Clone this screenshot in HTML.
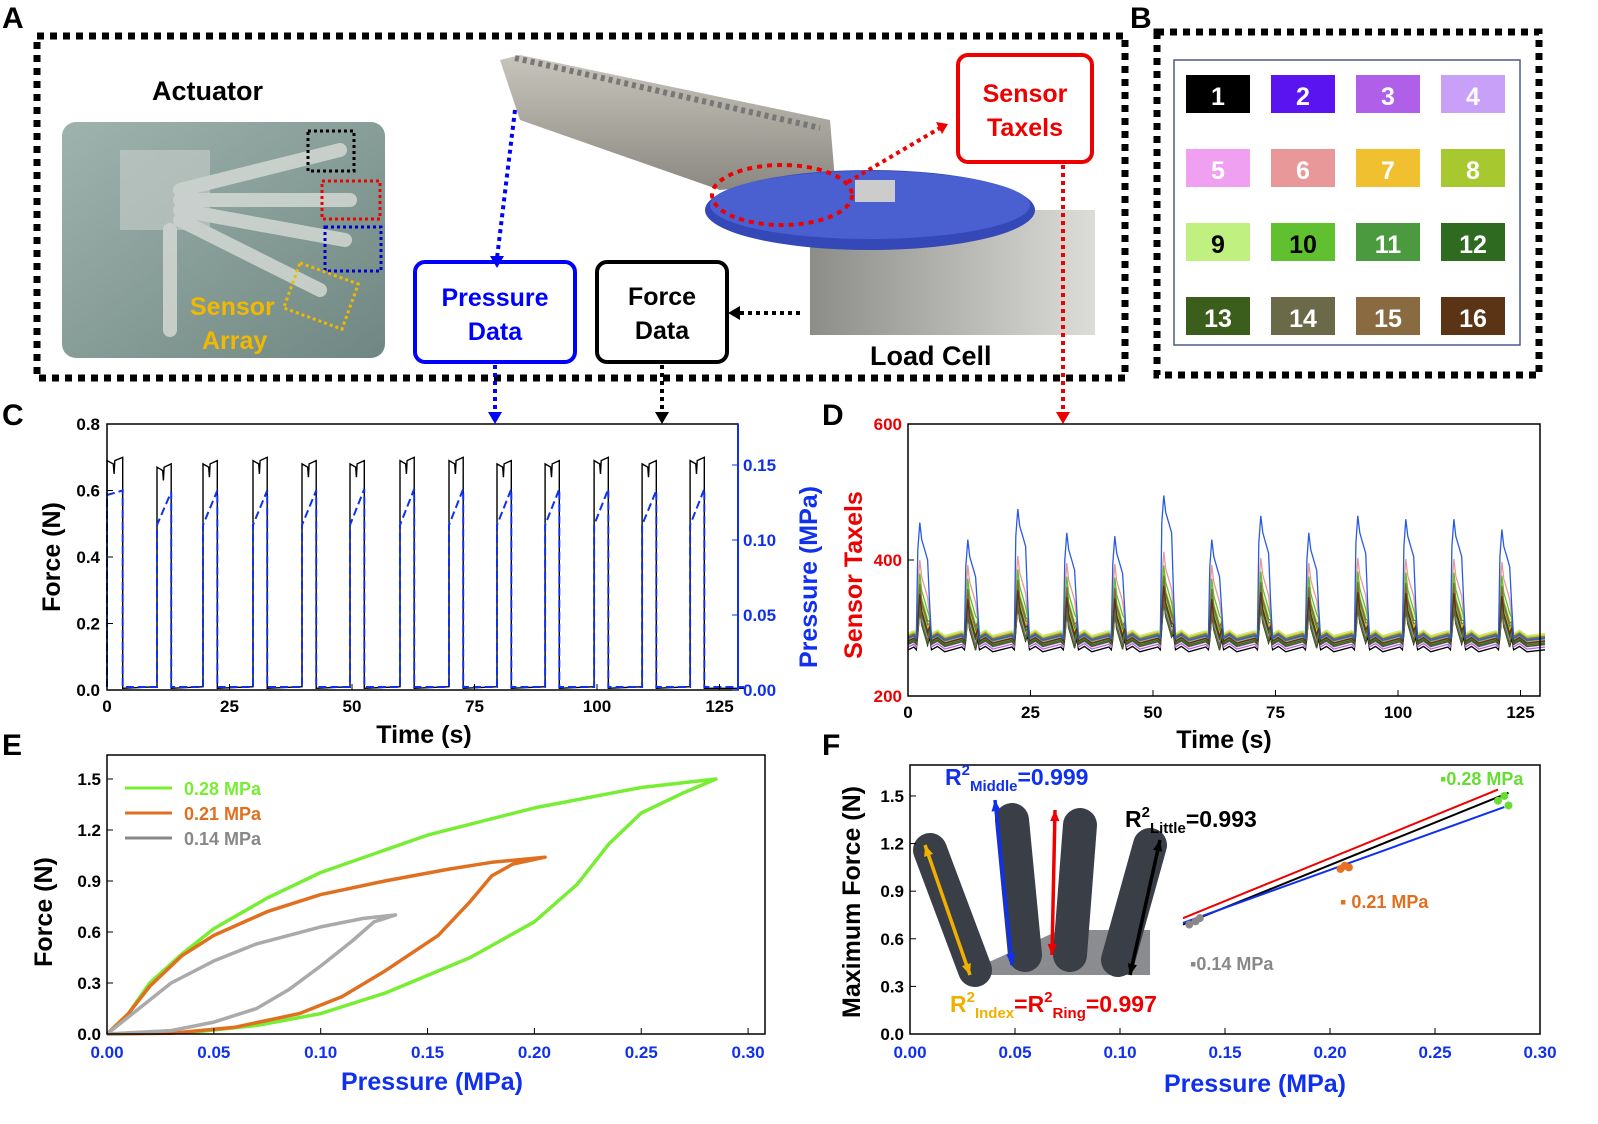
<!DOCTYPE html>
<html><head><meta charset="utf-8">
<style>
html,body{margin:0;padding:0;background:#fff;}
svg{display:block;font-family:"Liberation Sans",Arial,sans-serif;}
</style></head>
<body>
<svg id="fig" width="1598" height="1124" viewBox="0 0 1598 1124" xmlns="http://www.w3.org/2000/svg">
<defs>
<linearGradient id="actBg" x1="0" y1="0" x2="1" y2="1"><stop offset="0" stop-color="#9fb3ae"/><stop offset="1" stop-color="#6f8782"/></linearGradient>
<linearGradient id="armG" x1="0" y1="0" x2="0" y2="1"><stop offset="0" stop-color="#c8c6bc"/><stop offset="1" stop-color="#8a8880"/></linearGradient>
<linearGradient id="cellG" x1="0" y1="0" x2="1" y2="0"><stop offset="0" stop-color="#8c8c88"/><stop offset="1" stop-color="#dcdcd8"/></linearGradient>
</defs>

<!-- Panel letters -->
<g font-weight="bold" font-size="30" fill="#000">
<text x="2" y="28">A</text>
<text x="1130" y="28">B</text>
<text x="2" y="425">C</text>
<text x="822" y="425">D</text>
<text x="2" y="755">E</text>
<text x="822" y="755">F</text>
</g>

<!-- Panel A -->
<g>
<rect x="37" y="36" width="1088" height="342" fill="none" stroke="#000" stroke-width="7" stroke-dasharray="7,6"/>
<text x="152" y="100" font-size="27" font-weight="bold">Actuator</text>
<rect x="62" y="122" width="323" height="236" rx="14" fill="url(#actBg)"/>
<g stroke="#d8dcd8" stroke-width="14" fill="none" opacity="0.8" stroke-linecap="round">
<path d="M180 190 L340 150"/><path d="M180 200 L350 200"/><path d="M180 210 L345 240"/><path d="M180 220 L320 290"/><path d="M170 230 L170 330"/>
</g>
<rect x="120" y="150" width="90" height="80" fill="#c8cfcc" opacity="0.6"/>
<rect x="308" y="131" width="46" height="40" fill="none" stroke="#000" stroke-width="3" stroke-dasharray="3,3"/>
<rect x="322" y="181" width="58" height="38" fill="none" stroke="#e00" stroke-width="3" stroke-dasharray="3,3"/>
<rect x="325" y="227" width="56" height="44" fill="none" stroke="#00c" stroke-width="3" stroke-dasharray="3,3"/>
<rect x="290" y="272" width="62" height="48" fill="none" stroke="#f0b800" stroke-width="3" stroke-dasharray="3,3" transform="rotate(20 321 296)"/>
<text x="190" y="315" font-size="25" font-weight="bold" fill="#f0b800">Sensor</text>
<text x="202" y="349" font-size="25" font-weight="bold" fill="#f0b800">Array</text>

<!-- load cell photo -->
<path d="M500 60 L520 55 L830 120 L835 180 L720 190 L520 120 Z" fill="url(#armG)"/>
<path d="M515 58 L820 128" stroke="#777" stroke-width="6" stroke-dasharray="4,4"/>
<rect x="810" y="210" width="285" height="125" fill="url(#cellG)"/>
<ellipse cx="870" cy="210" rx="165" ry="40" fill="#3448b8"/>
<ellipse cx="870" cy="205" rx="160" ry="34" fill="#4a5fd0"/>
<rect x="855" y="180" width="40" height="22" fill="#ccc"/>
<ellipse cx="782" cy="195" rx="70" ry="30" fill="none" stroke="#e00" stroke-width="4" stroke-dasharray="5,5"/>
<text x="870" y="365" font-size="27" font-weight="bold">Load Cell</text>

<rect x="958" y="55" width="134" height="107" rx="10" fill="#fff" stroke="#e00" stroke-width="4"/>
<text x="1025" y="102" text-anchor="middle" font-size="25" font-weight="bold" fill="#e00">Sensor</text>
<text x="1025" y="136" text-anchor="middle" font-size="25" font-weight="bold" fill="#e00">Taxels</text>
<rect x="415" y="262" width="160" height="100" rx="10" fill="#fff" stroke="#00f" stroke-width="4"/>
<text x="495" y="306" text-anchor="middle" font-size="25" font-weight="bold" fill="#00f">Pressure</text>
<text x="495" y="340" text-anchor="middle" font-size="25" font-weight="bold" fill="#00f">Data</text>
<rect x="597" y="262" width="130" height="100" rx="10" fill="#fff" stroke="#000" stroke-width="4"/>
<text x="662" y="305" text-anchor="middle" font-size="25" font-weight="bold">Force</text>
<text x="662" y="339" text-anchor="middle" font-size="25" font-weight="bold">Data</text>

<g stroke-width="4" stroke-dasharray="4,4" fill="none">
<path d="M515 110 L497 258" stroke="#00f"/>
<path d="M848 182 L940 128" stroke="#e00"/>
<path d="M1063 165 L1063 412" stroke="#e00"/>
<path d="M495 365 L495 412" stroke="#00f"/>
<path d="M662 365 L662 412" stroke="#000"/>
<path d="M800 313 L738 313" stroke="#000"/>
</g>
<path d="M490 256 L497 268 L504 256Z" fill="#00f"/>
<path d="M936 122 L948 124 L942 134Z" fill="#e00"/>
<path d="M1056 412 L1063 424 L1070 412Z" fill="#e00"/>
<path d="M488 412 L495 424 L502 412Z" fill="#00f"/>
<path d="M655 412 L662 424 L669 412Z" fill="#000"/>
<path d="M740 306 L728 313 L740 320Z" fill="#000"/>
</g>

<!-- Panel B -->
<g>
<rect x="1157" y="32" width="382" height="343" fill="none" stroke="#000" stroke-width="7" stroke-dasharray="7,6"/>
<rect x="1174" y="60" width="346" height="285" fill="#fff" stroke="#4a5a8a" stroke-width="1.5"/>
<g id="taxelGrid"></g>
</g>

<g id="charts"></g>
</svg>

<script>
// ===== Shared data =====
const taxelColors = ["#000000","#5a14f0","#b060e8","#c8a0f8","#f0a0f0","#e89898","#f0c030","#a8c830","#c0f080","#60c030","#4c9a40","#2e6a20","#3c5e1c","#6a6a48","#8a6a40","#5a3414"];
const taxelTextColors = ["#fff","#fff","#fff","#fff","#fff","#fff","#fff","#fff","#000","#000","#fff","#fff","#fff","#fff","#fff","#fff"];

// ===== Panel C data =====
const cPulseTimes = [0, 10.2, 19.6, 29.8, 39.8, 49.6, 59.8, 69.8, 79.6, 89.4, 99.4, 109.2, 119];
const cPulseForce = [0.70, 0.68, 0.69, 0.70, 0.69, 0.69, 0.70, 0.70, 0.69, 0.69, 0.70, 0.69, 0.70];
const cPulsePressStart = [0.130, 0.110, 0.110, 0.110, 0.110, 0.110, 0.110, 0.110, 0.110, 0.110, 0.110, 0.110, 0.110];
const cPulsePressEnd = [0.133, 0.132, 0.133, 0.133, 0.133, 0.134, 0.134, 0.134, 0.134, 0.134, 0.134, 0.133, 0.134];
const cXTicks = [0, 25, 50, 75, 100, 125];
const cYTicks = ["0.0","0.2","0.4","0.6","0.8"];
const cY2Ticks = ["0.00","0.05","0.10","0.15"];

// ===== Panel D data =====
const dPulseTimes = [2, 11.8, 22, 32, 41.8, 51.8, 61.6, 71.6, 81.4, 91.4, 101.2, 111, 120.8];
const dBluePeaks = [455, 430, 475, 440, 435, 495, 430, 465, 440, 465, 460, 460, 445];
const dTaxelBase = [268, 285, 272, 280, 275, 282, 290, 286, 292, 288, 284, 278, 276, 280, 287, 281];
const dTaxelPeak = [330, 445, 360, 340, 350, 400, 355, 345, 370, 380, 360, 345, 330, 335, 365, 350];
const dXTicks = [0, 25, 50, 75, 100, 125];
const dYTicks = [200, 400, 600];

// ===== Panel E data =====
const eGreenUp = [[0,0],[0.01,0.12],[0.02,0.3],[0.035,0.47],[0.05,0.62],[0.075,0.8],[0.1,0.95],[0.15,1.17],[0.2,1.33],[0.25,1.45],[0.285,1.5]];
const eGreenDown = [[0.285,1.5],[0.27,1.42],[0.25,1.3],[0.235,1.12],[0.22,0.88],[0.2,0.66],[0.17,0.45],[0.13,0.24],[0.1,0.12],[0.07,0.05],[0.04,0.01],[0,0]];
const eOrangeUp = [[0,0],[0.01,0.12],[0.02,0.28],[0.035,0.46],[0.05,0.58],[0.075,0.72],[0.1,0.82],[0.13,0.9],[0.16,0.97],[0.18,1.01],[0.205,1.04]];
const eOrangeDown = [[0.205,1.04],[0.19,1.0],[0.18,0.93],[0.17,0.78],[0.155,0.58],[0.13,0.37],[0.11,0.22],[0.09,0.12],[0.06,0.04],[0.03,0.005],[0,0]];
const eGrayUp = [[0,0],[0.015,0.15],[0.03,0.3],[0.05,0.43],[0.07,0.53],[0.1,0.63],[0.12,0.68],[0.135,0.7]];
const eGrayDown = [[0.135,0.7],[0.125,0.66],[0.115,0.55],[0.1,0.4],[0.085,0.26],[0.07,0.15],[0.05,0.07],[0.03,0.02],[0,0]];
const eXTicks = ["0.00","0.05","0.10","0.15","0.20","0.25","0.30"];
const eYTicks = ["0.0","0.3","0.6","0.9","1.2","1.5"];

// ===== Panel F data =====
const fPointsP = [0.133, 0.136, 0.138, 0.205, 0.207, 0.209, 0.280, 0.283, 0.285];
const fPointsF = [0.69, 0.71, 0.73, 1.04, 1.06, 1.05, 1.47, 1.50, 1.44];
const fPointColors = ["#888","#888","#888","#e87020","#e87020","#e87020","#66dd33","#66dd33","#66dd33"];
const fLineStart = [[0.13,0.73],[0.13,0.69],[0.13,0.70]];
const fLineEnd = [[0.28,1.54],[0.285,1.52],[0.283,1.43]];
const fLineColors = ["#e00","#000","#1030f0"];
const fXTicks = ["0.00","0.05","0.10","0.15","0.20","0.25","0.30"];
const fYTicks = ["0.0","0.3","0.6","0.9","1.2","1.5"];

const NS = "http://www.w3.org/2000/svg";
function mk(tag, attrs, parent){const e=document.createElementNS(NS,tag);for(const k in attrs)e.setAttribute(k,attrs[k]);parent.appendChild(e);return e;}
const charts = document.getElementById('charts');

// ----- Panel B grid -----
const grid = document.getElementById('taxelGrid');
for(let i=0;i<16;i++){
  const col=i%4,row=Math.floor(i/4);
  const x=1186+col*85, y=75+row*74;
  const r=mk('rect',{x:x,y:y,width:64,height:38,fill:taxelColors[i]},grid);
  
  
  const t=mk('text',{x:x+32,y:y+30,'text-anchor':'middle','font-size':25,'font-weight':'bold',fill:taxelTextColors[i]},grid);
  t.textContent=i+1;
}

function pathFrom(pts){return pts.map((p,i)=>(i?'L':'M')+p[0].toFixed(1)+' '+p[1].toFixed(1)).join(' ');}

function frame(g,x0,y0,x1,y1,name){
  const r=mk('rect',{x:x0,y:y0,width:x1-x0,height:y1-y0,fill:'none',stroke:'#000','stroke-width':1.5},g);
  
  
}

// ----- Panel C -----
(function(){
  const g=mk('g',{},charts);
  
  
  const xC=t=>107+t*4.9, yF=f=>690-f*332.5, yP=p=>690-p*1500;
  // force
  let pts=[[xC(0),yF(0.01)]];
  cPulseTimes.forEach((t,i)=>{
    const w=(i===0)?3.2:2.9;
    pts.push([xC(t),yF(0.01)],[xC(t),yF(cPulseForce[i]-0.01)],[xC(t+w*0.4),yF(cPulseForce[i]-0.02)],[xC(t+w*0.45),yF(cPulseForce[i]-0.05)],[xC(t+w*0.5),yF(cPulseForce[i]-0.01)],[xC(t+w),yF(cPulseForce[i])],[xC(t+w),yF(0.005)]);
  });
  pts.push([xC(130),yF(0.005)]);
  let p=mk('path',{d:pathFrom(pts),fill:'none',stroke:'#000','stroke-width':1.4},g);
  
  
  // pressure
  pts=[[xC(0),yP(0.002)]];
  cPulseTimes.forEach((t,i)=>{
    const w=(i===0)?3.2:2.9;
    pts.push([xC(t),yP(0.002)],[xC(t),yP(cPulsePressStart[i])],[xC(t+w),yP(cPulseEnd(i))],[xC(t+w),yP(0.002)]);
  });
  function cPulseEnd(i){return cPulsePressEnd[i];}
  pts.push([xC(130),yP(0.002)]);
  p=mk('path',{d:pathFrom(pts),fill:'none',stroke:'#1030f0','stroke-width':2,'stroke-dasharray':'8,4'},g);
  
  
  frame(g,107,424,738,690,'panel-c-plot-frame');
  const ax=mk('path',{d:'M738 424 L738 690',stroke:'#1030f0','stroke-width':2},g);
  cXTicks.forEach(v=>{mk('line',{x1:xC(v),y1:690,x2:xC(v),y2:684,stroke:'#000'},g);const t=mk('text',{x:xC(v),y:712,'text-anchor':'middle','font-size':17,'font-weight':'bold'},g);t.textContent=v;});
  cYTicks.forEach(v=>{const y=yF(+v);mk('line',{x1:107,y1:y,x2:113,y2:y,stroke:'#000'},g);const t=mk('text',{x:100,y:y+6,'text-anchor':'end','font-size':17,'font-weight':'bold'},g);t.textContent=v;});
  cY2Ticks.forEach(v=>{const y=yP(+v);mk('line',{x1:732,y1:y,x2:738,y2:y,stroke:'#1030f0'},g);const t=mk('text',{x:743,y:y+6,'font-size':17,'font-weight':'bold',fill:'#1030f0'},g);t.textContent=v;});
  let t=mk('text',{x:424,y:743,'text-anchor':'middle','font-size':25,'font-weight':'bold'},g);t.textContent='Time (s)';
  
  t=mk('text',{x:0,y:0,'text-anchor':'middle','font-size':25,'font-weight':'bold',transform:'translate(60 557) rotate(-90)'},g);t.textContent='Force (N)';
  
  t=mk('text',{x:0,y:0,'text-anchor':'middle','font-size':25,'font-weight':'bold',fill:'#1030f0',transform:'translate(817 577) rotate(-90)'},g);t.textContent='Pressure (MPa)';
  
})();

// ----- Panel D -----
(function(){
  const g=mk('g',{},charts);
  
  
  const xD=t=>908+t*4.9, yD=v=>696-(v-200)*0.68;
  const order=[0,2,3,4,5,6,7,8,9,10,11,12,13,14,15,1];
  order.forEach(k=>{
    const pts=[[xD(0),yD(dTaxelBase[k])]];
    dPulseTimes.forEach((t,i)=>{
      const pk = k===1 ? dBluePeaks[i] : dTaxelPeak[k]+(dBluePeaks[i]-455)*0.3;
      const b=dTaxelBase[k];
      pts.push([xD(t-0.8),yD(b+4)],[xD(t-0.3),yD(b)],[xD(t),yD(pk-40)],[xD(t+0.4),yD(pk)],[xD(t+0.8),yD(pk-25)],[xD(t+1.4),yD(pk-40)],[xD(t+2),yD(pk-55)],[xD(t+2.4),yD(b+(pk-b)*0.3)],[xD(t+2.8),yD(b)],[xD(t+4),yD(b+5)],[xD(t+5.5),yD(b-3)]);
    });
    pts.push([xD(130),yD(dTaxelBase[k])]);
    const col = k===1 ? '#2a5ae0' : taxelColors[k];
    const p=mk('path',{d:pathFrom(pts),fill:'none',stroke:col,'stroke-width':1.3},g);
    
    
  });
  frame(g,908,424,1540,696,'panel-d-plot-frame');
  dXTicks.forEach(v=>{mk('line',{x1:xD(v),y1:696,x2:xD(v),y2:690,stroke:'#000'},g);const t=mk('text',{x:xD(v),y:718,'text-anchor':'middle','font-size':17,'font-weight':'bold'},g);t.textContent=v;});
  dYTicks.forEach(v=>{const y=yD(v);mk('line',{x1:908,y1:y,x2:914,y2:y,stroke:'#000'},g);const t=mk('text',{x:902,y:y+6,'text-anchor':'end','font-size':17,'font-weight':'bold',fill:'#e00'},g);t.textContent=v;});
  let t=mk('text',{x:1224,y:748,'text-anchor':'middle','font-size':25,'font-weight':'bold'},g);t.textContent='Time (s)';
  
  t=mk('text',{x:0,y:0,'text-anchor':'middle','font-size':25,'font-weight':'bold',fill:'#e00',transform:'translate(862 575) rotate(-90)'},g);t.textContent='Sensor Taxels';
  
})();

// ----- Panel E -----
(function(){
  const g=mk('g',{},charts);
  
  
  const xE=p=>107+p*2137, yE=f=>1034-f*170;
  const series=[[eGreenUp,eGreenDown,'#77ee33','green'],[eOrangeUp,eOrangeDown,'#e07020','orange'],[eGrayUp,eGrayDown,'#aaaaaa','gray']];
  series.forEach(s=>{
    const pts=s[0].concat(s[1]).map(q=>[xE(q[0]),yE(q[1])]);
    const p=mk('path',{d:pathFrom(pts),fill:'none',stroke:s[2],'stroke-width':3.5,'stroke-linejoin':'round'},g);
    
    
  });
  frame(g,107,755,765,1034,'panel-e-plot-frame');
  eXTicks.forEach(v=>{const x=xE(+v);mk('line',{x1:x,y1:1034,x2:x,y2:1028,stroke:'#000'},g);const t=mk('text',{x:x,y:1058,'text-anchor':'middle','font-size':17,'font-weight':'bold',fill:'#1030f0'},g);t.textContent=v;});
  eYTicks.forEach(v=>{const y=yE(+v);mk('line',{x1:107,y1:y,x2:113,y2:y,stroke:'#000'},g);const t=mk('text',{x:101,y:y+6,'text-anchor':'end','font-size':17,'font-weight':'bold'},g);t.textContent=v;});
  const leg=[['0.28 MPa','#77ee33'],['0.21 MPa','#e07020'],['0.14 MPa','#888']];
  leg.forEach((l,i)=>{const y=788+i*25;mk('line',{x1:125,y1:y,x2:172,y2:y,stroke:l[1],'stroke-width':3},g);const t=mk('text',{x:184,y:y+7,'font-size':18,'font-weight':'bold',fill:l[1]},g);t.textContent=l[0];});
  let t=mk('text',{x:432,y:1090,'text-anchor':'middle','font-size':25,'font-weight':'bold',fill:'#1030f0'},g);t.textContent='Pressure (MPa)';
  
  t=mk('text',{x:0,y:0,'text-anchor':'middle','font-size':25,'font-weight':'bold',transform:'translate(52 912) rotate(-90)'},g);t.textContent='Force (N)';
  
})();

// ----- Panel F -----
(function(){
  const g=mk('g',{},charts);
  
  
  const xF=p=>910+p*2100, yF=f=>1034-f*158.7;
  // hand photo
  const hand=mk('g',{},g);
  
  
  mk('path',{d:'M960 975 L1150 975 L1150 930 L1060 930 Z',fill:'#8a8c90'},hand);
  [['M930 850 L975 970',0],['M1012 820 L1025 955',0],['M1080 825 L1070 955',0],['M1150 845 L1118 960',0]].forEach(f=>mk('path',{d:f[0],stroke:'#3a3e46','stroke-width':34,'stroke-linecap':'round',fill:'none'},hand));
  const arrows=[[970,975,925,845,'#f0b000'],[1012,965,995,800,'#1030f0'],[1052,955,1055,810,'#e00'],[1130,975,1160,840,'#000']];
  arrows.forEach(a=>{mk('line',{x1:a[0],y1:a[1],x2:a[2],y2:a[3],stroke:a[4],'stroke-width':3.5},g);
    const ang=Math.atan2(a[3]-a[1],a[2]-a[0]);
    [[a[0],a[1],ang+Math.PI],[a[2],a[3],ang]].forEach(h=>{const x=h[0],y=h[1],an=h[2];mk('path',{d:`M${x} ${y} L${x-12*Math.cos(an-0.4)} ${y-12*Math.sin(an-0.4)} L${x-12*Math.cos(an+0.4)} ${y-12*Math.sin(an+0.4)}Z`,fill:a[4]},g);});
  });
  fLineStart.forEach((s,i)=>{const l=mk('line',{x1:xF(s[0]),y1:yF(s[1]),x2:xF(fLineEnd[i][0]),y2:yF(fLineEnd[i][1]),stroke:fLineColors[i],'stroke-width':2},g);});
  fPointsP.forEach((p,i)=>{const c=mk('circle',{cx:xF(p),cy:yF(fPointsF[i]),r:4,fill:fPointColors[i]},g);});
  frame(g,910,765,1540,1034,'panel-f-plot-frame');
  fXTicks.forEach(v=>{const x=xF(+v);mk('line',{x1:x,y1:1034,x2:x,y2:1028,stroke:'#000'},g);const t=mk('text',{x:x,y:1058,'text-anchor':'middle','font-size':17,'font-weight':'bold',fill:'#1030f0'},g);t.textContent=v;});
  fYTicks.forEach(v=>{const y=yF(+v);mk('line',{x1:910,y1:y,x2:916,y2:y,stroke:'#000'},g);const t=mk('text',{x:904,y:y+6,'text-anchor':'end','font-size':17,'font-weight':'bold'},g);t.textContent=v;});
  // labels
  const labs=[[1440,785,'▪0.28 MPa','#66dd33'],[1340,908,'▪ 0.21 MPa','#e07020'],[1190,970,'▪0.14 MPa','#888']];
  labs.forEach(l=>{const t=mk('text',{x:l[0],y:l[1],'font-size':18,'font-weight':'bold',fill:l[3]},g);t.textContent=l[2];});
  g.insertAdjacentHTML('beforeend',
   '<text x="945" y="785" font-size="23" font-weight="bold" fill="#1030f0">R<tspan font-size="15" dy="-10">2</tspan><tspan font-size="15" dy="16">Middle</tspan><tspan dy="-6">=0.999</tspan></text>'+
   '<text x="1125" y="827" font-size="23" font-weight="bold" fill="#000">R<tspan font-size="15" dy="-10">2</tspan><tspan font-size="15" dy="16">Little</tspan><tspan dy="-6">=0.993</tspan></text>'+
   '<text x="950" y="1012" font-size="23" font-weight="bold" fill="#f0b000">R<tspan font-size="15" dy="-10">2</tspan><tspan font-size="15" dy="16">Index</tspan><tspan dy="-6" fill="#e00">=R</tspan><tspan font-size="15" dy="-10" fill="#e00">2</tspan><tspan font-size="15" dy="16" fill="#e00">Ring</tspan><tspan dy="-6" fill="#e00">=0.997</tspan></text>');
  let t=mk('text',{x:1255,y:1092,'text-anchor':'middle','font-size':25,'font-weight':'bold',fill:'#1030f0'},g);t.textContent='Pressure (MPa)';
  
  t=mk('text',{x:0,y:0,'text-anchor':'middle','font-size':25,'font-weight':'bold',transform:'translate(860 902) rotate(-90)'},g);t.textContent='Maximum Force (N)';
  
})();
</script>
</body></html>
